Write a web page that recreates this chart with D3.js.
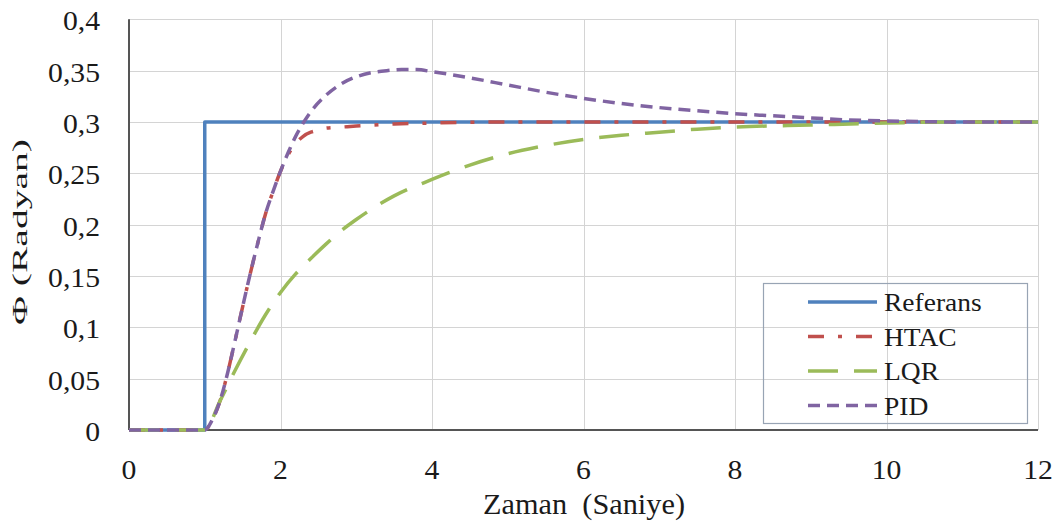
<!DOCTYPE html>
<html>
<head>
<meta charset="utf-8">
<script src="https://cdn.jsdelivr.net/npm/d3@7"></script>
</head>
<body style="margin:0;background:#fff">
<svg id="chart" width="1061" height="522" style="font-family: 'Liberation Serif'"></svg>
<script>
// Time axis (seconds)
const xTicks = [0, 2, 4, 6, 8, 10, 12];
const yTicks = [0, 0.05, 0.1, 0.15, 0.2, 0.25, 0.3, 0.35, 0.4];
const yTickLabels = ["0", "0,05", "0,1", "0,15", "0,2", "0,25", "0,3", "0,35", "0,4"];

// Reference step input
const refT = [0, 1, 1, 12];
const refV = [0, 0, 0.3, 0.3];

// HTAC response
const htacT = [0, 1, 1.1, 1.2, 1.3, 1.4, 1.5, 1.6, 1.7, 1.8, 1.9, 2.0, 2.1, 2.2, 2.3, 2.4, 2.5, 2.6, 2.8, 3.0, 3.2, 3.5, 4, 5, 6, 8, 10, 12];
const htacV = [0, 0, 0.01, 0.028, 0.055, 0.087, 0.12, 0.152, 0.182, 0.21, 0.232, 0.252, 0.268, 0.279, 0.286, 0.29, 0.292, 0.294, 0.295, 0.296, 0.297, 0.298, 0.299, 0.3, 0.3, 0.3, 0.3, 0.3];

// LQR response
const lqrT = [0, 1, 1.2, 1.4, 1.6, 1.8, 2.0, 2.2, 2.4, 2.6, 2.8, 3.0, 3.5, 4.0, 4.5, 5.0, 5.5, 6.0, 6.5, 7.0, 7.5, 8.0, 9.0, 10, 11, 12];
const lqrV = [0, 0, 0.028, 0.058, 0.086, 0.112, 0.134, 0.152, 0.167, 0.181, 0.194, 0.205, 0.228, 0.244, 0.258, 0.269, 0.277, 0.283, 0.287, 0.29, 0.293, 0.295, 0.297, 0.299, 0.3, 0.3];

// PID response
const pidT = [0, 1, 1.1, 1.2, 1.3, 1.4, 1.5, 1.6, 1.7, 1.8, 1.9, 2.0, 2.1, 2.2, 2.3, 2.4, 2.6, 2.8, 3.0, 3.2, 3.4, 3.6, 3.8, 4.0, 4.5, 5.0, 5.5, 6.0, 6.5, 7.0, 7.5, 8.0, 8.5, 9.0, 9.5, 10, 11, 12];
const pidV = [0, 0, 0.01, 0.028, 0.055, 0.087, 0.12, 0.152, 0.182, 0.21, 0.232, 0.252, 0.27, 0.286, 0.299, 0.31, 0.326, 0.337, 0.344, 0.348, 0.35, 0.351, 0.351, 0.349, 0.343, 0.336, 0.329, 0.323, 0.318, 0.314, 0.311, 0.308, 0.306, 0.304, 0.302, 0.301, 0.3, 0.3];

const seriesNames = ["Referans", "HTAC", "LQR", "PID"];
const seriesColors = ["#4f81bd", "#c0504d", "#9bbb59", "#8064a2"];
const seriesDash = [null, "16,14,4,14", "30,16", "12,7"];

const svg = d3.select("#chart");
const plotLeft = 129, plotRight = 1038, plotTop = 19.3, plotBottom = 430;

const x = d3.scaleLinear().domain([0, 12]).range([plotLeft, plotRight]);
const y = d3.scaleLinear().domain([0, 0.4]).range([plotBottom, plotTop]);

// Gridlines
const grid = svg.append("g").attr("stroke", "#d4d4d4").attr("stroke-width", 1);
grid.selectAll("line.h").data(yTicks.slice(1)).join("line")
  .attr("x1", plotLeft).attr("x2", plotRight)
  .attr("y1", d => Math.round(y(d)) + 0.5).attr("y2", d => Math.round(y(d)) + 0.5);
grid.selectAll("line.v").data(xTicks.slice(1)).join("line")
  .attr("y1", plotTop).attr("y2", plotBottom)
  .attr("x1", d => Math.round(x(d)) + 0.5).attr("x2", d => Math.round(x(d)) + 0.5);

// Axis lines
const axisColor = "#555";
svg.append("line").attr("x1", x(0)).attr("x2", x(12)).attr("y1", y(0)).attr("y2", y(0))
  .attr("stroke", axisColor).attr("stroke-width", 2);
svg.append("line").attr("x1", x(0)).attr("x2", x(0)).attr("y1", y(0)).attr("y2", y(0.4))
  .attr("stroke", axisColor).attr("stroke-width", 2);

// Tick labels
const labels = svg.append("g").attr("fill", "#1a1a1a");
labels.selectAll("text.yl").data(yTicks).join("text")
  .attr("class", "yl")
  .attr("transform", (d) => `translate(100,${y(d) + 11}) scale(1.1,1)`)
  .attr("text-anchor", "end").attr("font-size", 27)
  .text((d, i) => yTickLabels[i]);
labels.selectAll("text.xl").data(xTicks).join("text")
  .attr("class", "xl")
  .attr("transform", d => `translate(${x(d)},479) scale(1.1,1)`)
  .attr("text-anchor", "middle").attr("font-size", 27)
  .text(d => d);

// Axis titles
labels.append("text")
  .attr("x", 584).attr("y", 514).attr("text-anchor", "middle")
  .attr("font-size", 29)
  .attr("textLength", 202).attr("lengthAdjust", "spacingAndGlyphs")
  .text("Zaman\u00a0 (Saniye)");
labels.append("text")
  .attr("transform", "translate(27,232) rotate(-90)")
  .attr("text-anchor", "middle").attr("font-size", 22)
  .attr("textLength", 186).attr("lengthAdjust", "spacingAndGlyphs")
  .text("Φ (Radyan)");

// Series
const line = d3.line().x(d => x(d[0])).y(d => y(d[1]));
const smooth = d3.line().x(d => x(d[0])).y(d => y(d[1])).curve(d3.curveMonotoneX);
const series = [
  { t: refT, v: refV, gen: line },
  { t: htacT, v: htacV, gen: smooth },
  { t: lqrT, v: lqrV, gen: smooth },
  { t: pidT, v: pidV, gen: smooth }
];
const plot = svg.append("g");
series.forEach((s, i) => {
  const pts = s.t.map((t, k) => [t, s.v[k]]);
  plot.append("path")
    .attr("d", s.gen(pts))
    .attr("fill", "none")
    .attr("stroke", seriesColors[i])
    .attr("stroke-width", 3.5)
    .attr("stroke-dasharray", seriesDash[i])
    .attr("stroke-linejoin", "round");
});

// Legend
const lg = svg.append("g");
lg.append("rect").attr("x", 763.5).attr("y", 283.5).attr("width", 264).attr("height", 140)
  .attr("fill", "none").attr("stroke", "#98a4b4").attr("stroke-width", 1.2);
const rowY = [302, 336.5, 371, 405.5];
seriesNames.forEach((name, i) => {
  lg.append("line")
    .attr("x1", 808).attr("x2", 877).attr("y1", rowY[i]).attr("y2", rowY[i])
    .attr("stroke", seriesColors[i]).attr("stroke-width", 3.5)
    .attr("stroke-dasharray", seriesDash[i]);
  lg.append("text")
    .attr("transform", `translate(884,${rowY[i] + 9}) scale(1.1,1)`)
    .attr("font-size", 25).attr("fill", "#1a1a1a")
    .text(name);
});
</script>
</body>
</html>
